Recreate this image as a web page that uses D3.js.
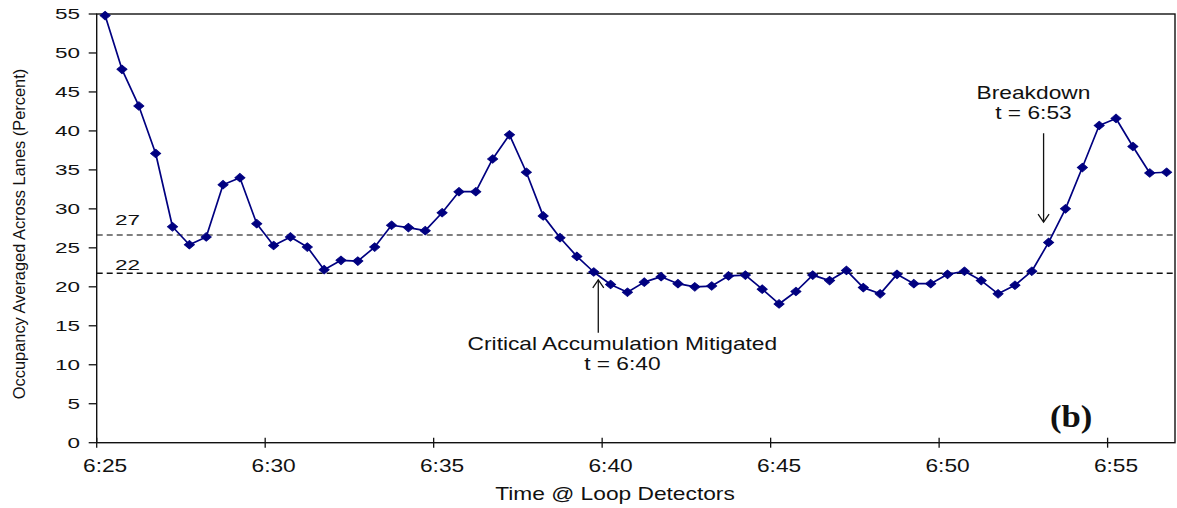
<!DOCTYPE html>
<html>
<head>
<meta charset="utf-8">
<script src="https://cdn.jsdelivr.net/npm/d3@7"></script>
<style>
  html, body { margin: 0; padding: 0; background: #fff; }
  svg { display: block; }
  text { fill: #111; }
</style>
</head>
<body>
<svg id="chart" width="1177" height="508"></svg>
<script>
// ---------------- data ----------------
const categories = [
  "6:25:00","6:25:30","6:26:00","6:26:30","6:27:00","6:27:30","6:28:00","6:28:30","6:29:00","6:29:30",
  "6:30:00","6:30:30","6:31:00","6:31:30","6:32:00","6:32:30","6:33:00","6:33:30","6:34:00","6:34:30",
  "6:35:00","6:35:30","6:36:00","6:36:30","6:37:00","6:37:30","6:38:00","6:38:30","6:39:00","6:39:30",
  "6:40:00","6:40:30","6:41:00","6:41:30","6:42:00","6:42:30","6:43:00","6:43:30","6:44:00","6:44:30",
  "6:45:00","6:45:30","6:46:00","6:46:30","6:47:00","6:47:30","6:48:00","6:48:30","6:49:00","6:49:30",
  "6:50:00","6:50:30","6:51:00","6:51:30","6:52:00","6:52:30","6:53:00","6:53:30","6:54:00","6:54:30",
  "6:55:00","6:55:30","6:56:00","6:56:30"
];
const occupancy = [
  54.8, 47.9, 43.2, 37.1, 27.7, 25.4, 26.4, 33.1, 34.0, 28.1,
  25.3, 26.4, 25.1, 22.2, 23.4, 23.3, 25.1, 27.9, 27.6, 27.2,
  29.5, 32.2, 32.2, 36.4, 39.5, 34.7, 29.1, 26.3, 23.9, 21.9,
  20.3, 19.3, 20.6, 21.3, 20.4, 20.0, 20.1, 21.4, 21.5, 19.7,
  17.8, 19.4, 21.5, 20.8, 22.1, 19.9, 19.1, 21.6, 20.4, 20.4,
  21.6, 22.0, 20.8, 19.1, 20.2, 22.0, 25.7, 30.0, 35.3, 40.7,
  41.6, 38.0, 34.6, 34.7
];
const xTickCategories = ["6:25:00","6:30:00","6:35:00","6:40:00","6:45:00","6:50:00","6:55:00"];
const xTickLabels = ["6:25","6:30","6:35","6:40","6:45","6:50","6:55"];
const yTicks = [0,5,10,15,20,25,30,35,40,45,50,55];
const thresholdValues = [26.65, 21.73];
const thresholdLabels = ["27", "22"];

// ---------------- layout ----------------
const SANS = "'Liberation Sans', Arial, sans-serif";
const SERIF = "'Liberation Serif', 'Times New Roman', serif";
const svg = d3.select("#chart");
const M = { left: 96.7, right: 1175, top: 14, bottom: 442.7 };

const x = d3.scaleBand().domain(categories).range([M.left, M.right]).padding(0);
const xi = d3.scaleLinear().domain([0, categories.length]).range([M.left, M.right]);
const y = d3.scaleLinear().domain([0, 55]).range([M.bottom, M.top]);
const cx = c => x(c) + x.bandwidth() / 2;

// helper: horizontally stretched text
function stext(g, str, px, py, size, sx, anchor) {
  return g.append("text")
    .attr("transform", `translate(${px},${py}) scale(${sx},1)`)
    .style("font-family", SANS)
    .attr("font-size", size)
    .attr("text-anchor", anchor || "start")
    .text(str);
}

// threshold dashed lines
const thrColors = ["#555", "#111"];
thresholdValues.forEach((v, i) => {
  svg.append("line")
    .attr("x1", M.left).attr("x2", M.right)
    .attr("y1", y(v)).attr("y2", y(v))
    .attr("stroke", thrColors[i])
    .attr("stroke-width", 1.4)
    .attr("stroke-dasharray", "6,4");
});
const thrLabelOffset = [-10, -3.5];
thresholdValues.forEach((v, i) => {
  stext(svg, thresholdLabels[i], 115, y(v) + thrLabelOffset[i], 15, 1.5, "start");
});

// frame
svg.append("rect")
  .attr("x", M.left).attr("y", M.top)
  .attr("width", M.right - M.left).attr("height", M.bottom - M.top)
  .attr("fill", "none").attr("stroke", "#111").attr("stroke-width", 1.4);

// y axis ticks + labels
const yg = svg.append("g");
yTicks.forEach(v => {
  yg.append("line")
    .attr("x1", M.left - 8).attr("x2", M.left)
    .attr("y1", y(v)).attr("y2", y(v))
    .attr("stroke", "#111").attr("stroke-width", 1.3);
  stext(yg, String(v), 80, y(v) + 5.3, 15, 1.5, "end");
});

// x axis ticks (at category boundaries) + labels (at category centres)
const xg = svg.append("g");
xTickCategories.forEach((c, i) => {
  xg.append("line")
    .attr("x1", x(c)).attr("x2", x(c))
    .attr("y1", M.bottom - 5).attr("y2", M.bottom + 5)
    .attr("stroke", "#111").attr("stroke-width", 1.3);
  stext(xg, xTickLabels[i], cx(c), 471.5, 17.5, 1.3, "middle");
});

// axis titles
stext(svg, "Time @ Loop Detectors", 615, 500, 17.5, 1.3, "middle");
svg.append("text")
  .attr("transform", "translate(25,234) rotate(-90)")
  .style("font-family", SANS)
  .attr("font-size", 16.4)
  .attr("text-anchor", "middle")
  .text("Occupancy Averaged Across Lanes (Percent)");

// series line
const line = d3.line()
  .x((d, i) => cx(categories[i]))
  .y(d => y(d));
svg.append("path")
  .datum(occupancy)
  .attr("d", line)
  .attr("fill", "none")
  .attr("stroke", "#000080")
  .attr("stroke-width", 1.7)
  .attr("stroke-linejoin", "round");

// markers
const diamond = d3.symbol().type(d3.symbolDiamond).size(46);
svg.append("g").selectAll("path")
  .data(occupancy)
  .join("path")
  .attr("d", diamond)
  .attr("transform", (d, i) => `translate(${cx(categories[i])},${y(d)}) scale(1.4,0.68)`)
  .attr("fill", "#000080")
  .attr("stroke", "#000080")
  .attr("stroke-width", 0.8);

// annotations
function arrow(xv, yFrom, yTo) {
  const X = xi(xv), Y1 = y(yFrom), Y2 = y(yTo);
  const dir = Y2 < Y1 ? 1 : -1; // tip at Y2
  const g = svg.append("g").attr("stroke", "#111").attr("stroke-width", 1.3).attr("fill", "none");
  g.append("line").attr("x1", X).attr("x2", X).attr("y1", Y1).attr("y2", Y2);
  g.append("path").attr("d", `M${X - 5.5},${Y2 + dir * 8}L${X},${Y2}L${X + 5.5},${Y2 + dir * 8}`);
}
// Critical accumulation mitigated
arrow(29.77, 14.1, 20.9);
stext(svg, "Critical Accumulation Mitigated", xi(31.2), 350, 17.5, 1.3, "middle");
stext(svg, "t = 6:40", xi(31.2), 370, 17.5, 1.3, "middle");
// Breakdown
arrow(56.2, 39.7, 28.3);
stext(svg, "Breakdown", xi(55.6), 99, 17.5, 1.3, "middle");
stext(svg, "t = 6:53", xi(55.6), 119, 17.5, 1.3, "middle");

// panel label
svg.append("text")
  .attr("transform", "translate(1050,427) scale(1.12,1)")
  .style("font-family", SERIF)
  .style("font-weight", "bold")
  .attr("font-size", 31)
  .text("(b)");
</script>
</body>
</html>
